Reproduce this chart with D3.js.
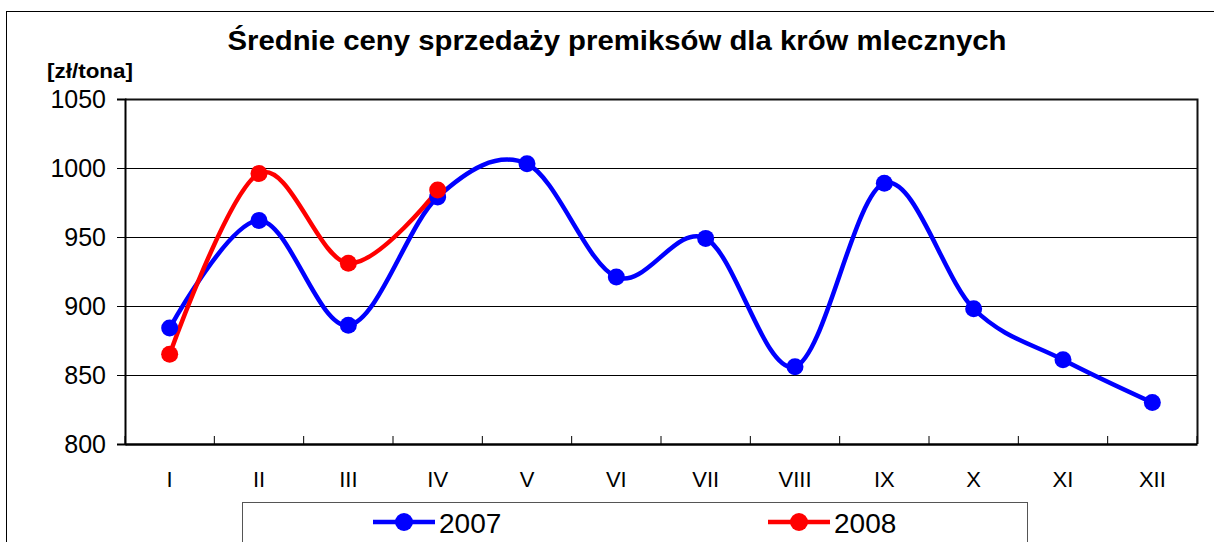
<!DOCTYPE html>
<html>
<head>
<meta charset="utf-8">
<script src="https://cdn.jsdelivr.net/npm/d3@7"></script>
<style>
  body { margin: 0; background: #fff; }
  svg { display: block; font-family: "Liberation Sans", Arial, sans-serif; }
</style>
</head>
<body>
<script>
// data
var months = ["I", "II", "III", "IV", "V", "VI", "VII", "VIII", "IX", "X", "XI", "XII"];
var v2007 = [884, 962, 886, 979, 1003, 921, 949, 856, 989, 898, 861, 830];
var v2008 = [865, 996, 931, 984];
var yTicks = [800, 850, 900, 950, 1000, 1050];
var seriesNames = ["2007", "2008"];
var seriesColors = ["#0000ff", "#ff0000"];

var W = 1214, H = 542;
var margin = {left: 125, right: 17, top: 99, bottom: 98};

var svg = d3.select("body").append("svg")
    .attr("width", W)
    .attr("height", H);

// outer chart frame
svg.append("rect")
    .attr("x", 6.5).attr("y", 11.5)
    .attr("width", W + 20).attr("height", H + 20)
    .attr("fill", "none").attr("stroke", "#000").attr("stroke-width", 1);

var x = d3.scaleBand()
    .domain(months)
    .range([margin.left, W - margin.right]);

var y = d3.scaleLinear()
    .domain([800, 1050])
    .range([H - margin.bottom, margin.top]);

var cx = function(i) { return x(months[i]) + x.bandwidth() / 2; };

// gridlines
svg.append("g")
    .selectAll("line")
    .data(yTicks.slice(1, -1))
    .enter().append("line")
    .attr("x1", margin.left).attr("x2", W - margin.right)
    .attr("y1", function(d) { return Math.round(y(d)) + 0.5; })
    .attr("y2", function(d) { return Math.round(y(d)) + 0.5; })
    .attr("stroke", "#000").attr("stroke-width", 1);

// plot frame top / right
svg.append("path")
    .attr("d", "M" + margin.left + "," + (margin.top + 0.5) + "H" + (W - margin.right + 0.5) + "V" + (H - margin.bottom))
    .attr("fill", "none").attr("stroke", "#111").attr("stroke-width", 2);

// y axis
var yAxis = svg.append("g")
    .attr("transform", "translate(" + margin.left + ",0)")
    .call(d3.axisLeft(y).tickValues(yTicks).tickFormat(d3.format("d")).tickSize(8).tickPadding(11));
yAxis.select(".domain").attr("stroke-width", 2).attr("stroke", "#000");
yAxis.selectAll(".tick line").attr("stroke", "#000").attr("stroke-width", 1);
yAxis.selectAll("text")
    .attr("font-size", 25).attr("fill", "#000")
    .style("font-family", "Liberation Sans, Arial, sans-serif");

// x axis: labels at centres, ticks at the category boundaries (inside)
var xAxis = svg.append("g")
    .attr("transform", "translate(0," + (H - margin.bottom) + ")")
    .call(d3.axisBottom(x).tickSize(0).tickPadding(27));
xAxis.select(".domain").attr("stroke-width", 2.5).attr("stroke", "#000");
xAxis.selectAll("text")
    .attr("font-size", 22).attr("fill", "#000")
    .style("font-family", "Liberation Sans, Arial, sans-serif");

svg.append("g")
    .selectAll("line")
    .data(d3.range(months.length + 1))
    .enter().append("line")
    .attr("x1", function(i) { return margin.left + i * x.step(); })
    .attr("x2", function(i) { return margin.left + i * x.step(); })
    .attr("y1", H - margin.bottom)
    .attr("y2", H - margin.bottom - 8)
    .attr("stroke", "#000").attr("stroke-width", 1);

// lines (Excel style smoothing)
var line = d3.line()
    .x(function(d, i) { return cx(i); })
    .y(function(d) { return y(d); })
    .curve(d3.curveCardinal.tension(0));

[v2007, v2008].forEach(function(vals, s) {
    svg.append("path")
        .datum(vals)
        .attr("d", line)
        .attr("fill", "none")
        .attr("stroke", seriesColors[s])
        .attr("stroke-width", 4.5)
        .attr("stroke-linejoin", "round");
});

[v2007, v2008].forEach(function(vals, s) {
    svg.append("g")
        .selectAll("circle")
        .data(vals)
        .enter().append("circle")
        .attr("cx", function(d, i) { return cx(i); })
        .attr("cy", function(d) { return y(d); })
        .attr("r", 8.5)
        .attr("fill", seriesColors[s]);
});

// title
svg.append("text")
    .attr("x", 617).attr("y", 50)
    .attr("text-anchor", "middle")
    .attr("font-size", 28).attr("font-weight", "bold")
    .attr("textLength", 779).attr("lengthAdjust", "spacingAndGlyphs")
    .text("Średnie ceny sprzedaży premiksów dla krów mlecznych");

svg.append("text")
    .attr("x", 47).attr("y", 78)
    .attr("font-size", 21).attr("font-weight", "bold")
    .attr("textLength", 86).attr("lengthAdjust", "spacingAndGlyphs")
    .text("[zł/tona]");

// legend
var legend = svg.append("g");
legend.append("rect")
    .attr("x", 242.5).attr("y", 502.5)
    .attr("width", 785).attr("height", 60)
    .attr("fill", "#fff").attr("stroke", "#555").attr("stroke-width", 1);

var legX = [373, 768];
seriesNames.forEach(function(name, s) {
    var gx = legX[s];
    legend.append("line")
        .attr("x1", gx).attr("x2", gx + 62)
        .attr("y1", 522).attr("y2", 522)
        .attr("stroke", seriesColors[s]).attr("stroke-width", 4.5);
    legend.append("circle")
        .attr("cx", gx + 31).attr("cy", 522).attr("r", 9)
        .attr("fill", seriesColors[s]);
    legend.append("text")
        .attr("x", gx + 66).attr("y", 533)
        .attr("font-size", 28)
        .text(name);
});
</script>
</body>
</html>
